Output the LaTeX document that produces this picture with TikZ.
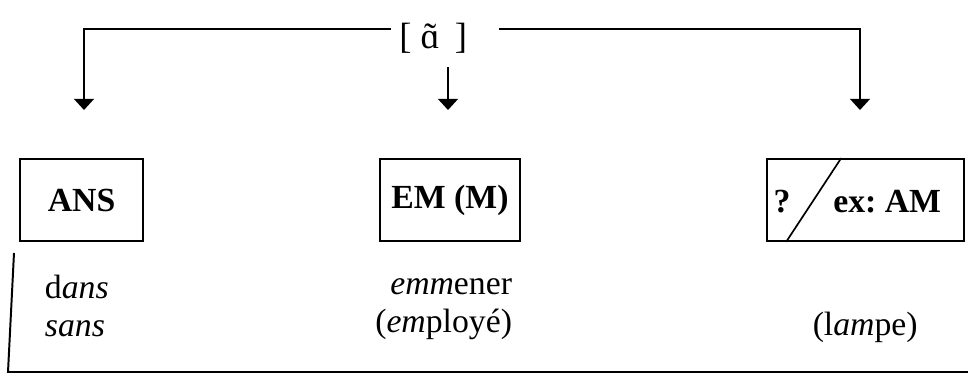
\documentclass[tikz,border=0pt]{standalone}
\usepackage{fontspec}
\setmainfont{Liberation Serif}
\usetikzlibrary{arrows.meta}
\frenchspacing
\newcommand{\nasala}{\ooalign{ɑ\cr\hidewidth\char"02DC\hidewidth}}
\begin{document}
\begin{tikzpicture}[every node/.style={font=\fontsize{24}{27}\selectfont},
  box/.style={draw,line width=1.2pt,minimum height=2.05cm,font=\fontsize{24}{27}\selectfont\bfseries},
  arr/.style={line width=1.4pt,-{Triangle[width=0.5cm,length=0.28cm]}}]
\useasboundingbox (0,0) rectangle (24.2,-9.525);
\node[inner sep=0.2cm,font=\fontsize{26}{29}\selectfont] (lbl) at (10.83,-0.95) {[\ \nasala\ \,]};
\coordinate (tl) at (2.1,-0.725); \coordinate (tr) at (21.5,-0.725);
\coordinate (ansin) at (2.1,-2.75); \coordinate (emin) at (11.2,-2.75); \coordinate (amin) at (21.5,-2.75);
\node[box,minimum width=3.08cm] (ans) at (2.04,-5.0) {ANS};
\node[box,minimum width=3.5cm] (em) at (11.25,-5.0) {EM (M)};
\node[box,minimum width=4.93cm] (am) at (21.64,-5.0) {};
\node[font=\fontsize{24}{27}\selectfont\bfseries] (q) at (19.55,-5.05) {?};
\node[font=\fontsize{24}{27}\selectfont\bfseries] (amtxt) at (22.18,-5.05) {ex: AM};
\draw[line width=1.2pt] ([xshift=1.875cm]am.north west) -- ([xshift=0.5cm]am.south west);
\draw[arr] (lbl.west |- tl) -- (tl) -- (ansin);
\draw[arr] ([xshift=0.6cm]lbl.east |- tr) -- (tr) -- (amin);
\draw[arr] ([yshift=-0.15cm]lbl.south -| emin) -- (emin);
\node[align=left,anchor=west] (wans) at (1.0,-7.65) {d\textit{ans}\\\textit{s}\textit{ans}};
\node[align=right,anchor=east] (wem) at (12.925,-7.725) {\textit{emm}ener\\(\textit{em}ployé)};
\node (wam) at (21.63,-8.175) {(l\textit{am}pe)};
\draw[line width=1.4pt] (0.35,-6.325) -- (0.2,-9.3) -- (24.2,-9.3);
\end{tikzpicture}
\end{document}
